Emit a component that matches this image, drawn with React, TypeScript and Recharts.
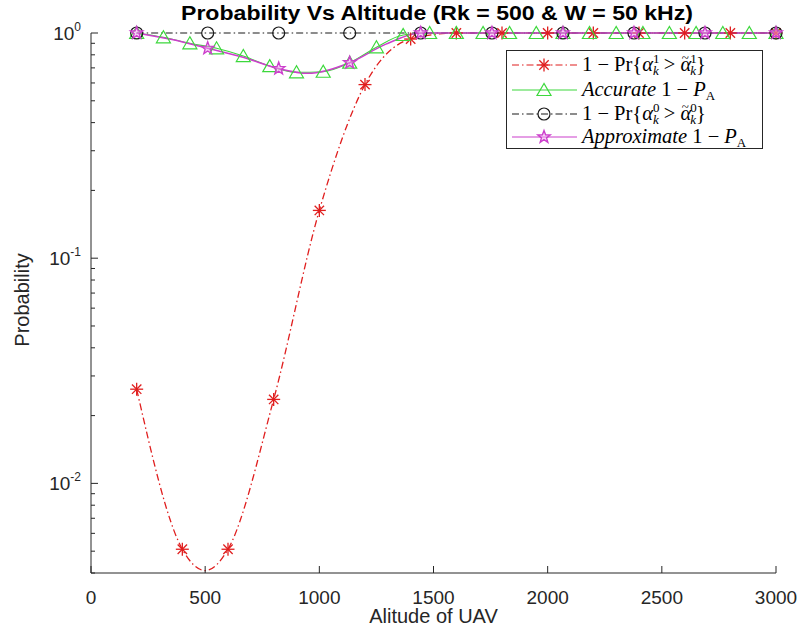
import React from "react"
import { ComposedChart, Line, Scatter, XAxis, YAxis, Legend, Label } from "recharts"

const AXIS = "#262626"
const FONT = "'Liberation Sans', Arial, Helvetica, sans-serif"
const MATH_FONT = "'Liberation Serif', 'DejaVu Serif', serif"
const RED = "#e01e1e"
const GREEN = "#3cd83c"
const BLACK = "#1a1a1a"
const MAGENTA = "#cc3fcc"

// axis ticks
const xTicks = [0, 500, 1000, 1500, 2000, 2500, 3000]
const yTicks = [
  0.004, 0.005, 0.006, 0.007, 0.008, 0.009, 0.01, 0.02, 0.03, 0.04, 0.05, 0.06, 0.07, 0.08,
  0.09, 0.1, 0.2, 0.3, 0.4, 0.5, 0.6, 0.7, 0.8, 0.9, 1,
]
const yMajor = [0.01, 0.1, 1]
const yMajorExp = ["-2", "-1", "0"]

// 1 - Pr{alpha1 > alpha~1}
const prA1Alt = [200, 400, 500, 600, 800, 1000, 1200, 1400, 1600, 1800, 2000, 2200, 2400, 2600, 2800, 3000]
const prA1Val = [0.0262, 0.0051, 0.0041, 0.0051, 0.0236, 0.163, 0.59, 0.94, 1, 1, 1, 1, 1, 1, 1, 1]
const prA1MarkAlt = [200, 400, 600, 800, 1000, 1200, 1400, 1600, 1800, 2000, 2200, 2400, 2600, 2800, 3000]

// Accurate 1 - PA
const accAlt = [
  200, 317, 433, 550, 667, 783, 900, 1017, 1133, 1250, 1367, 1483, 1600, 1717, 1833, 1950, 2067,
  2183, 2300, 2417, 2533, 2650, 2767, 2883, 3000,
]
const accVal = [
  1, 0.957, 0.9, 0.855, 0.79, 0.713, 0.669, 0.673, 0.738, 0.864, 0.98, 1, 1, 1, 1, 1, 1, 1, 1, 1,
  1, 1, 1, 1, 1,
]

// 1 - Pr{alpha0 > alpha~0}
const prA0Alt = [200, 511, 822, 1133, 1444, 1756, 2067, 2378, 2689, 3000]
const prA0Val = [1, 1, 1, 1, 1, 1, 1, 1, 1, 1]

// Approximate 1 - PA
const apxAlt = [200, 355, 511, 666, 822, 950, 1133, 1289, 1444, 1756, 2067, 2378, 2689, 3000]
const apxVal = [1, 0.935, 0.855, 0.78, 0.695, 0.662, 0.738, 0.89, 1, 1, 1, 1, 1, 1]
const apxMarkAlt = [200, 511, 822, 1133, 1444, 1756, 2067, 2378, 2689, 3000]

const toPoints = (xs: number[], ys: number[]) => xs.map((x, i) => ({ x, y: ys[i] }))

const prA1Curve = toPoints(prA1Alt, prA1Val)
const prA1Marks = prA1Curve.filter((p) => prA1MarkAlt.includes(p.x))
const accCurve = toPoints(accAlt, accVal)
const prA0Curve = toPoints(prA0Alt, prA0Val)
const apxCurve = toPoints(apxAlt, apxVal)
const apxMarks = apxCurve.filter((p) => apxMarkAlt.includes(p.x))

type MarkerKind = "asterisk" | "triangle" | "circle" | "pentagram"

function Marker({ kind, cx, cy, color }: { kind: MarkerKind; cx: number; cy: number; color: string }) {
  if (cx == null || cy == null) return null
  if (kind === "asterisk") {
    const r = 6.5
    const d = r * 0.72
    return (
      <g stroke={color} strokeWidth={1.3}>
        <line x1={cx} x2={cx} y1={cy - r} y2={cy + r} />
        <line x1={cx - r} x2={cx + r} y1={cy} y2={cy} />
        <line x1={cx - d} x2={cx + d} y1={cy - d} y2={cy + d} />
        <line x1={cx - d} x2={cx + d} y1={cy + d} y2={cy - d} />
      </g>
    )
  }
  if (kind === "triangle") {
    return (
      <polygon
        points={`${cx},${cy - 6.5} ${cx - 7},${cy + 5.5} ${cx + 7},${cy + 5.5}`}
        fill="none"
        stroke={color}
        strokeWidth={1.2}
      />
    )
  }
  if (kind === "circle") {
    return <circle cx={cx} cy={cy} r={6} fill="none" stroke={color} strokeWidth={1.2} />
  }
  const pts: string[] = []
  for (let i = 0; i < 10; i++) {
    const rad = i % 2 === 0 ? 6.5 : 2.7
    const a = -Math.PI / 2 + (i * Math.PI) / 5
    pts.push(`${cx + rad * Math.cos(a)},${cy + rad * Math.sin(a)}`)
  }
  return <polygon points={pts.join(" ")} fill="#eeaaee" fillOpacity={0.5} stroke={color} strokeWidth={1.4} />
}

const prLabel = (sup: string) => (
  <>
    <tspan>1 − Pr{"{"}</tspan>
    <tspan fontStyle="italic">α</tspan>
    <tspan fontSize={13} dy={-8}>{sup}</tspan>
    <tspan fontSize={13} fontStyle="italic" dx={-6.5} dy={12}>k</tspan>
    <tspan dy={-4}>{" > "}</tspan>
    <tspan fontStyle="italic">α</tspan>
    <tspan fontSize={13} dx={-9.5} dy={-9}>~</tspan>
    <tspan fontSize={13} dx={1.5} dy={1}>{sup}</tspan>
    <tspan fontSize={13} fontStyle="italic" dx={-6.5} dy={12}>k</tspan>
    <tspan dy={-4}>{"}"}</tspan>
  </>
)

const paLabel = (word: string) => (
  <>
    <tspan fontStyle="italic">{word}</tspan>
    <tspan>{" 1 − "}</tspan>
    <tspan fontStyle="italic">P</tspan>
    <tspan fontSize={13} dy={4}>A</tspan>
  </>
)

const series = [
  { key: "prA1", color: RED, dash: "7 3 1.5 3", marker: "asterisk" as MarkerKind, label: prLabel("1") },
  { key: "acc", color: GREEN, dash: undefined, marker: "triangle" as MarkerKind, label: paLabel("Accurate") },
  { key: "prA0", color: BLACK, dash: "7 3 1.5 3", marker: "circle" as MarkerKind, label: prLabel("0") },
  { key: "apx", color: MAGENTA, dash: undefined, marker: "pentagram" as MarkerKind, label: paLabel("Approximate") },
]

function LegendBox() {
  const rows = [15, 40, 64, 87]
  return (
    <svg width={258} height={100} style={{ display: "block" }}>
      <rect x={0.5} y={0.5} width={256} height={98} fill="#fff" stroke={AXIS} />
      {series.map((s, i) => (
        <g key={s.key}>
          <line x1={6} x2={71} y1={rows[i]} y2={rows[i]} stroke={s.color} strokeWidth={1.2} strokeDasharray={s.dash} />
          <Marker kind={s.marker} cx={38} cy={rows[i]} color={s.color} />
          <text x={76} y={rows[i] + 6} fontSize={20.5} fontFamily={MATH_FONT} fill="#000">
            {s.label}
          </text>
        </g>
      ))}
    </svg>
  )
}

const XTickBottom = ({ x, y, payload }: any) => (
  <g>
    <line x1={x} x2={x} y1={y} y2={y - 7} stroke={AXIS} />
    <text x={x} y={y + 31} textAnchor="middle" fontSize={19} fontFamily={FONT} fill={AXIS}>
      {payload.value}
    </text>
  </g>
)

const XTickTop = ({ x, y }: any) => <line x1={x} x2={x} y1={y} y2={y + 7} stroke={AXIS} />

const YTickLeft = ({ x, y, payload }: any) => {
  const mi = yMajor.indexOf(payload.value)
  const len = mi >= 0 ? 7 : 4
  return (
    <g>
      <line x1={x} x2={x + len} y1={y} y2={y} stroke={AXIS} />
      {mi >= 0 && (
        <text x={x - 10} y={y + 7} textAnchor="end" fontSize={19} fontFamily={FONT} fill={AXIS}>
          10
          <tspan fontSize={12} dy={-9}>
            {yMajorExp[mi]}
          </tspan>
        </text>
      )}
    </g>
  )
}

const YTickRight = ({ x, y, payload }: any) => {
  const len = yMajor.includes(payload.value) ? 7 : 4
  return <line x1={x} x2={x - len} y1={y} y2={y} stroke={AXIS} />
}

export default function App() {
  return (
    <div style={{ position: "absolute", left: 0, top: 0, width: 802, height: 642, background: "#fff" }}>
      <ComposedChart width={802} height={642} margin={{ top: 33, right: 26, left: 0, bottom: 0 }}>
        <XAxis
          dataKey="x"
          type="number"
          domain={[0, 3000]}
          ticks={xTicks}
          interval={0}
          height={69}
          tickLine={false}
          tickSize={0}
          tickMargin={0}
          stroke={AXIS}
          tick={<XTickBottom />}
        >
          <Label
            content={({ viewBox }: any) => (
              <text
                x={viewBox.x + viewBox.width / 2}
                y={viewBox.y + 50}
                textAnchor="middle"
                fontSize={20}
                fontFamily={FONT}
                fill={AXIS}
              >
                Alitude of UAV
              </text>
            )}
          />
        </XAxis>
        <XAxis
          xAxisId="top"
          orientation="top"
          dataKey="x"
          type="number"
          domain={[0, 3000]}
          ticks={xTicks}
          interval={0}
          height={0}
          tickLine={false}
          tickSize={0}
          tickMargin={0}
          stroke={AXIS}
          tick={<XTickTop />}
        />
        <YAxis
          type="number"
          scale="log"
          domain={[0.004, 1]}
          ticks={yTicks}
          interval={0}
          width={91}
          tickLine={false}
          tickSize={0}
          tickMargin={0}
          stroke={AXIS}
          tick={<YTickLeft />}
        >
          <Label
            content={({ viewBox }: any) => {
              const cx = viewBox.x + 29
              const cy = viewBox.y + viewBox.height / 2 - 3
              return (
                <text
                  x={cx}
                  y={cy}
                  transform={`rotate(-90 ${cx} ${cy})`}
                  textAnchor="middle"
                  fontSize={20}
                  fontFamily={FONT}
                  fill={AXIS}
                >
                  Probability
                </text>
              )
            }}
          />
        </YAxis>
        <YAxis
          yAxisId="right"
          orientation="right"
          type="number"
          scale="log"
          domain={[0.004, 1]}
          ticks={yTicks}
          interval={0}
          width={0}
          tickLine={false}
          tickSize={0}
          tickMargin={0}
          stroke={AXIS}
          tick={<YTickRight />}
        />

        <Line
          data={prA1Curve}
          dataKey="y"
          type="monotone"
          stroke={RED}
          strokeWidth={1.3}
          strokeDasharray="7 3 1.5 3"
          dot={false}
          activeDot={false}
          isAnimationActive={false}
        />
        <Scatter
          data={prA1Marks}
          dataKey="y"
          isAnimationActive={false}
          shape={(p: any) => <Marker kind="asterisk" cx={p.cx} cy={p.cy} color={RED} />}
        />
        <Line
          data={accCurve}
          dataKey="y"
          type="monotone"
          stroke={GREEN}
          strokeWidth={1.1}
          dot={false}
          activeDot={false}
          isAnimationActive={false}
        />
        <Scatter
          data={accCurve}
          dataKey="y"
          isAnimationActive={false}
          shape={(p: any) => <Marker kind="triangle" cx={p.cx} cy={p.cy} color={GREEN} />}
        />
        <Line
          data={prA0Curve}
          dataKey="y"
          type="monotone"
          stroke={BLACK}
          strokeWidth={1.2}
          strokeDasharray="7 3 1.5 3"
          dot={false}
          activeDot={false}
          isAnimationActive={false}
        />
        <Scatter
          data={prA0Curve}
          dataKey="y"
          isAnimationActive={false}
          shape={(p: any) => <Marker kind="circle" cx={p.cx} cy={p.cy} color={BLACK} />}
        />
        <Line
          data={apxCurve}
          dataKey="y"
          type="monotone"
          stroke={MAGENTA}
          strokeWidth={1.5}
          dot={false}
          activeDot={false}
          isAnimationActive={false}
        />
        <Scatter
          data={apxMarks}
          dataKey="y"
          isAnimationActive={false}
          shape={(p: any) => <Marker kind="pentagram" cx={p.cx} cy={p.cy} color={MAGENTA} />}
        />
        <Legend
          layout="vertical"
          align="center"
          verticalAlign="middle"
          wrapperStyle={{ top: 50, left: 506, width: 258, height: 100 }}
          content={() => <LegendBox />}
        />
      </ComposedChart>
      <svg width={802} height={32} style={{ position: "absolute", left: 0, top: 0, pointerEvents: "none" }}>
        <text
          x={437}
          y={20}
          textAnchor="middle"
          fontSize={20}
          fontWeight="bold"
          fontFamily={FONT}
          fill="#000"
          textLength={512}
          lengthAdjust="spacingAndGlyphs"
        >
          Probability Vs Altitude (Rk = 500 &amp; W = 50 kHz)
        </text>
      </svg>
    </div>
  )
}
